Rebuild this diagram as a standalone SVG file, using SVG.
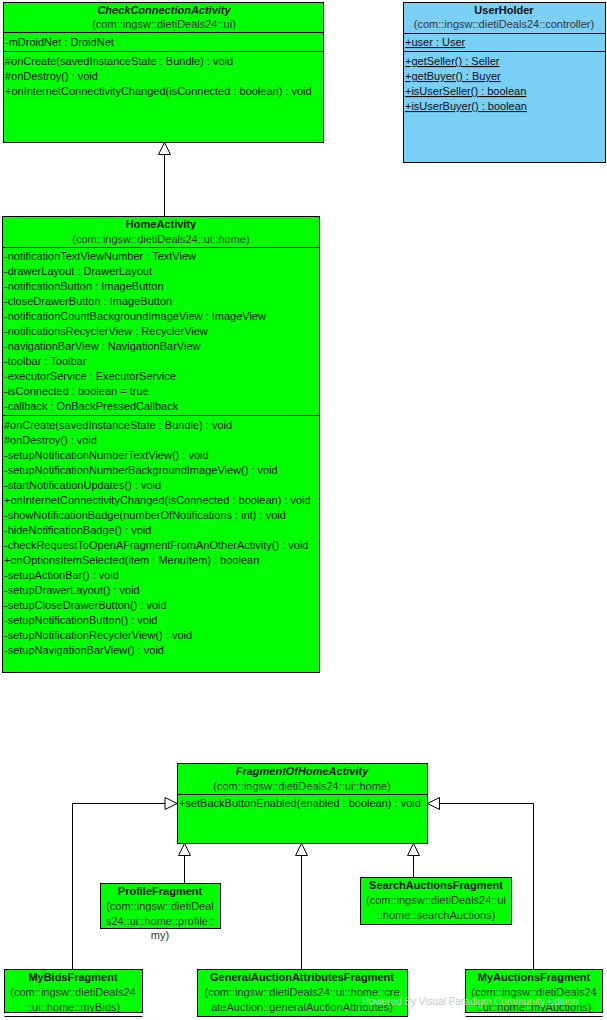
<svg xmlns="http://www.w3.org/2000/svg" width="607" height="1020" viewBox="0 0 607 1020">
<style>
text{font-family:"Liberation Sans",Arial,sans-serif;font-size:11px;fill:#111}
.t{font-weight:bold;text-anchor:middle}
.i{font-style:italic}
.p{text-anchor:middle;fill:#333}
.g{fill:#00ff00;stroke:#000;stroke-width:1}
.b{fill:#7acff5;stroke:#000;stroke-width:1}
.d{stroke:#000;stroke-width:1;fill:none}
.u{text-decoration:underline}
.c{stroke:#000;stroke-width:1;fill:none}
.w{fill:#c8c8c8;font-size:10px}
</style>
<defs>
<marker id="gen" viewBox="0 0 14 14" refX="13" refY="7" markerWidth="14" markerHeight="14" markerUnits="userSpaceOnUse" orient="auto">
<path d="M1,1 L13,7 L1,13 Z" fill="#fff" stroke="#000" stroke-width="1"/>
</marker>
</defs>
<g id="connectors">
<path class="c" d="M164.5,216 V142.5" marker-end="url(#gen)"/>
<path class="c" d="M72.5,969 V803.5 H177" marker-end="url(#gen)"/>
<path class="c" d="M184.5,883 V843.5" marker-end="url(#gen)"/>
<path class="c" d="M301.5,969 V843.5" marker-end="url(#gen)"/>
<path class="c" d="M413.5,877 V843.5" marker-end="url(#gen)"/>
<path class="c" d="M533.5,969 V803.5 H427.5" marker-end="url(#gen)"/>
</g>
<g id="CheckConnectionActivity">
<rect class="g" x="3.5" y="2.5" width="320" height="140"/>
<line class="d" x1="3.5" y1="32.5" x2="323.5" y2="32.5"/>
<line class="d" x1="3.5" y1="51.5" x2="323.5" y2="51.5"/>
<text class="t i" x="164" y="14">CheckConnectionActivity</text>
<text class="p" x="164" y="28">(com::ingsw::dietiDeals24::ui)</text>
<text x="5" y="46">-mDroidNet : DroidNet</text>
<text x="5" y="65">#onCreate(savedInstanceState : Bundle) : void</text>
<text x="5" y="80">#onDestroy() : void</text>
<text x="5" y="95">+onInternetConnectivityChanged(isConnected : boolean) : void</text>
</g>
<g id="UserHolder">
<rect class="b" x="403.5" y="2.5" width="202" height="160"/>
<line class="d" x1="403.5" y1="33.5" x2="605.5" y2="33.5"/>
<line class="d" x1="403.5" y1="51.5" x2="605.5" y2="51.5"/>
<text class="t" x="504" y="14">UserHolder</text>
<text class="p" x="504" y="28">(com::ingsw::dietiDeals24::controller)</text>
<text class="u" x="405" y="46">+user : User</text>
<text class="u" x="405" y="65">+getSeller() : Seller</text>
<text class="u" x="405" y="80">+getBuyer() : Buyer</text>
<text class="u" x="405" y="95">+isUserSeller() : boolean</text>
<text class="u" x="405" y="110">+isUserBuyer() : boolean</text>
</g>
<g id="HomeActivity">
<rect class="g" x="2.5" y="216.5" width="317" height="456"/>
<line class="d" x1="2.5" y1="247.5" x2="319.5" y2="247.5"/>
<line class="d" x1="2.5" y1="415.5" x2="319.5" y2="415.5"/>
<text class="t" x="161" y="228">HomeActivity</text>
<text class="p" x="161" y="243">(com::ingsw::dietiDeals24::ui::home)</text>
<text x="4" y="260">-notificationTextViewNumber : TextView</text>
<text x="4" y="275">-drawerLayout : DrawerLayout</text>
<text x="4" y="290">-notificationButton : ImageButton</text>
<text x="4" y="305">-closeDrawerButton : ImageButton</text>
<text x="4" y="320">-notificationCountBackgroundImageView : ImageView</text>
<text x="4" y="335">-notificationsRecyclerView : RecyclerView</text>
<text x="4" y="350">-navigationBarView : NavigationBarView</text>
<text x="4" y="365">-toolbar : Toolbar</text>
<text x="4" y="380">-executorService : ExecutorService</text>
<text x="4" y="395">-isConnected : boolean = true</text>
<text x="4" y="410">-callback : OnBackPressedCallback</text>
<text x="4" y="429">#onCreate(savedInstanceState : Bundle) : void</text>
<text x="4" y="444">#onDestroy() : void</text>
<text x="4" y="459">-setupNotificationNumberTextView() : void</text>
<text x="4" y="474">-setupNotificationNumberBackgroundImageView() : void</text>
<text x="4" y="489">-startNotificationUpdates() : void</text>
<text x="4" y="504">+onInternetConnectivityChanged(isConnected : boolean) : void</text>
<text x="4" y="519">-showNotificationBadge(numberOfNotifications : int) : void</text>
<text x="4" y="534">-hideNotificationBadge() : void</text>
<text x="4" y="549">-checkRequestToOpenAFragmentFromAnOtherActivity() : void</text>
<text x="4" y="564">+onOptionsItemSelected(item : MenuItem) : boolean</text>
<text x="4" y="579">-setupActionBar() : void</text>
<text x="4" y="594">-setupDrawerLayout() : void</text>
<text x="4" y="609">-setupCloseDrawerButton() : void</text>
<text x="4" y="624">-setupNotificationButton() : void</text>
<text x="4" y="639">-setupNotificationRecyclerView() : void</text>
<text x="4" y="654">-setupNavigationBarView() : void</text>
</g>
<g id="FragmentOfHomeActivity">
<rect class="g" x="177.5" y="763.5" width="250" height="80"/>
<line class="d" x1="177.5" y1="794.5" x2="427.5" y2="794.5"/>
<text class="t i" x="302" y="775">FragmentOfHomeActivity</text>
<text class="p" x="302" y="790">(com::ingsw::dietiDeals24::ui::home)</text>
<text x="179" y="807">+setBackButtonEnabled(enabled : boolean) : void</text>
</g>
<g id="ProfileFragment">
<rect class="g" x="100.5" y="883.5" width="120" height="45"/>
<text class="t" x="160" y="895">ProfileFragment</text>
<text class="p" x="160" y="910">(com::ingsw::dietiDeal</text>
<text class="p" x="160" y="925">s24::ui::home::profile::</text>
<text class="p" x="160" y="939">my)</text>
</g>
<g id="SearchAuctionsFragment">
<rect class="g" x="360.5" y="877.5" width="151" height="47"/>
<text class="t" x="436" y="889">SearchAuctionsFragment</text>
<text class="p" x="436" y="904">(com::ingsw::dietiDeals24::ui</text>
<text class="p" x="436" y="919">::home::searchAuctions)</text>
</g>
<g id="MyBidsFragment">
<rect class="g" x="4.5" y="969.5" width="138" height="43"/>
<line class="d" x1="4.5" y1="1016.5" x2="142.5" y2="1016.5"/>
<text class="t" x="73" y="981">MyBidsFragment</text>
<text class="p" x="73" y="996">(com::ingsw::dietiDeals24</text>
<text class="p" x="73" y="1011">::ui::home::myBids)</text>
</g>
<g id="GeneralAuctionAttributesFragment">
<rect class="g" x="197.5" y="969.5" width="210" height="47"/>
<text class="t" x="302" y="981">GeneralAuctionAttributesFragment</text>
<text class="p" x="302" y="996">(com::ingsw::dietiDeals24::ui::home::cre</text>
<text class="p" x="302" y="1011">ateAuction::generalAuctionAttributes)</text>
</g>
<g id="MyAuctionsFragment">
<rect class="g" x="465.5" y="969.5" width="137" height="43"/>
<line class="d" x1="465.5" y1="1016.5" x2="602.5" y2="1016.5"/>
<text class="t" x="534" y="981">MyAuctionsFragment</text>
<text class="p" x="534" y="996">(com::ingsw::dietiDeals24</text>
<text class="p" x="534" y="1011">::ui::home::myAuctions)</text>
</g>
<text class="w" x="362" y="1005">Powered By Visual Paradigm Community Edition</text>
</svg>
